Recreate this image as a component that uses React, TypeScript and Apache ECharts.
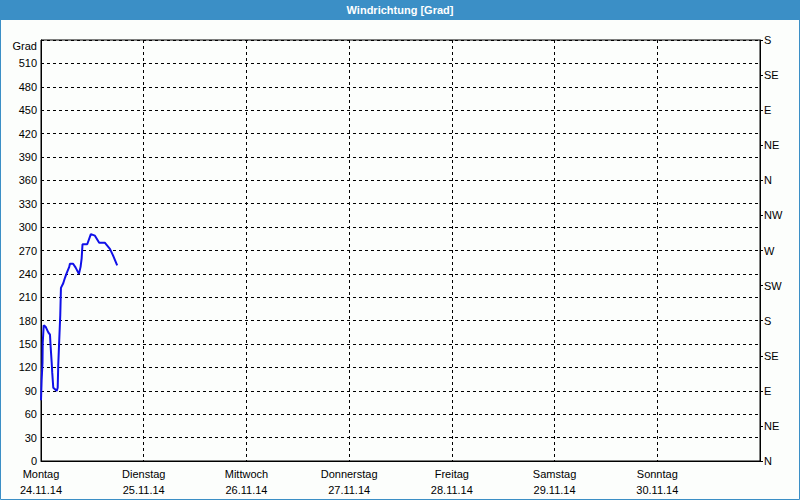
import React, { useEffect, useRef } from "react";
import * as echarts from "echarts";

const dayNames = ["Montag", "Dienstag", "Mittwoch", "Donnerstag", "Freitag", "Samstag", "Sonntag"];
const dayDates = ["24.11.14", "25.11.14", "26.11.14", "27.11.14", "28.11.14", "29.11.14", "30.11.14"];
const compassLabels = ["N", "NE", "E", "SE", "S", "SW", "W", "NW", "N", "NE", "E", "SE", "S"];
// hours since Monday 00:00
const hours = [0.0, 0.15, 0.35, 0.4, 0.63, 1.1, 1.7, 2.1, 2.26, 2.5, 2.63, 2.87, 3.66, 3.9, 4.03, 4.26, 4.5, 4.66, 5.2, 5.6, 6.0, 6.6, 6.76, 7.5, 8.1, 8.85, 9.25, 9.5, 9.7, 10.8, 11.65, 12.6, 13.6, 14.9, 16.1, 16.8, 17.8];
const degrees = [78, 104, 126, 151, 174, 172, 165, 162, 146, 126, 113, 94, 90, 94, 123, 155, 187, 222, 228, 235, 241, 249, 253, 253, 248, 240, 249, 260, 278, 278, 291, 289, 280, 280, 272, 264, 251];

const FONT = "Liberation Sans, Arial, sans-serif";

export default function App() {
  const ref = useRef<HTMLDivElement>(null);
  useEffect(() => {
    if (!ref.current) return;
    const chart = echarts.init(ref.current, null, { renderer: "svg" });
    chart.setOption({
      animation: false,
      backgroundColor: "#fcfefc",
      grid: { left: 41, top: 40, right: 40, bottom: 39, show: true, borderColor: "#000", borderWidth: 1 },
      graphic: [
        { type: "rect", shape: { x: 0, y: 0, width: 800, height: 20 }, style: { fill: "#3b8fc6" } },
        { type: "rect", shape: { x: 0.5, y: 0.5, width: 799, height: 499 }, style: { fill: "none", stroke: "#3b8fc6", lineWidth: 1 } },
        { type: "text", x: 400, y: 10, style: { text: "Windrichtung [Grad]", fill: "#fff", font: `bold 11px ${FONT}`, align: "center", verticalAlign: "middle" } },
        { type: "text", x: 37, y: 46, style: { text: "Grad", fill: "#000", font: `11px ${FONT}`, align: "right", verticalAlign: "middle" } },
      ],
      xAxis: {
        type: "value",
        min: 0,
        max: 168,
        interval: 24,
        axisLine: { show: true, lineStyle: { color: "#000", width: 1 } },
        axisTick: { show: false },
        splitLine: { show: true, lineStyle: { color: "#000", type: [3, 3], width: 1 } },
        axisLabel: {
          color: "#000",
          fontFamily: FONT,
          fontSize: 11,
          lineHeight: 16,
          margin: 5,
          showMaxLabel: false,
          formatter: (v: number) => {
            const i = Math.round(v / 24);
            if (i >= dayNames.length) return "";
            return dayNames[i] + "\n" + dayDates[i];
          },
        },
      },
      yAxis: [
        {
          type: "value",
          min: 0,
          max: 540,
          interval: 30,
          axisLine: { show: true, lineStyle: { color: "#000" } },
          axisTick: { show: false },
          splitLine: { show: true, lineStyle: { color: "#000", type: [3, 3], width: 1 } },
          axisLabel: {
            color: "#000",
            fontFamily: FONT,
            fontSize: 11,
            margin: 4,
            formatter: (v: number) => (v >= 540 ? "" : String(v)),
          },
        },
        {
          type: "value",
          position: "right",
          min: 0,
          max: 540,
          interval: 45,
          axisLine: { show: true, lineStyle: { color: "#000" } },
          axisTick: { show: true, length: 3, lineStyle: { color: "#000" } },
          splitLine: { show: false },
          axisLabel: {
            color: "#000",
            fontFamily: FONT,
            fontSize: 11,
            margin: 4,
            formatter: (v: number) => compassLabels[Math.round(v / 45)] ?? "",
          },
        },
      ],
      series: [
        {
          type: "line",
          data: hours.map((h, i) => [h, degrees[i]]),
          symbol: "none",
          lineStyle: { color: "#1010e8", width: 2 },
          yAxisIndex: 0,
        },
      ],
    });
    return () => chart.dispose();
  }, []);
  return <div ref={ref} style={{ position: "absolute", left: 0, top: 0, width: 800, height: 500 }} />;
}
